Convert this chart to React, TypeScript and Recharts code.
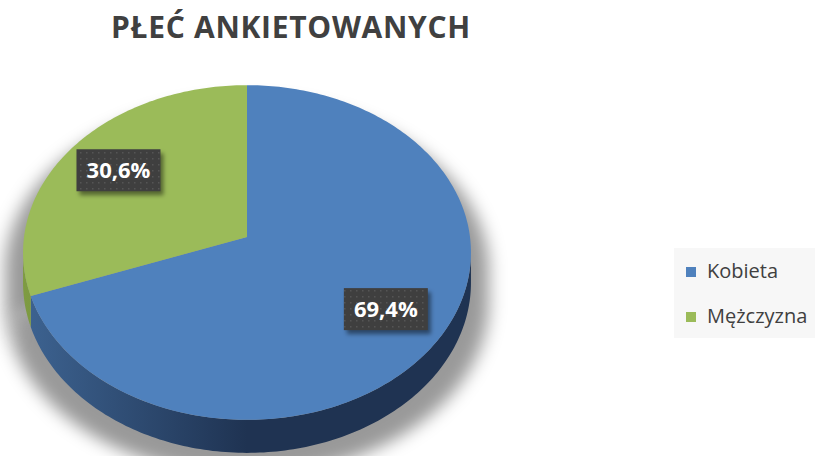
import React from 'react';
import { PieChart, Pie, Legend } from 'recharts';

const TITLE = 'PŁEĆ ANKIETOWANYCH';
const CATEGORIES = ['Kobieta', 'Mężczyzna'];
const VALUES = [69.4, 30.6];
const COLORS = ['#4f81bd', '#9bbb59'];
const WALL_COLORS = [
  ['#3d6391', '#1f3352'],
  ['#7e9b42', '#607b2d'],
];

const data = CATEGORIES.map((name, i) => ({ name, value: VALUES[i] }));

const FONT = '"Open Sans", "DejaVu Sans", sans-serif';
const K = 0.0925; // perspective
const S = 0.744; // vertical squash
const D = 30; // depth
const LIM = (Math.asin(K) * 180) / Math.PI;

function proj(cx: number, cy: number, r: number, deg: number, f = 1): [number, number] {
  const t = (deg * Math.PI) / 180;
  const c = Math.cos(t);
  const s = Math.sin(t);
  const den = 1 + K * f * s;
  return [cx + (r * f * c) / den, cy - (r * S * f * s) / den];
}

function arcPts(cx: number, cy: number, r: number, a: number, b: number, drop = false) {
  const n = Math.max(2, Math.ceil(Math.abs(b - a)) + 1);
  const pts: string[] = [];
  for (let i = 0; i < n; i++) {
    const d = a + ((b - a) * i) / (n - 1);
    const [x, y] = proj(cx, cy, r, d);
    const dy = drop ? D / (1 + K * Math.sin((d * Math.PI) / 180)) : 0;
    pts.push(`${x.toFixed(2)},${(y + dy).toFixed(2)}`);
  }
  return pts;
}

function facePath(cx: number, cy: number, r: number, s: number, e: number) {
  return `M${cx},${cy} L${arcPts(cx, cy, r, s, e).join(' L')} Z`;
}

function wallPath(cx: number, cy: number, r: number, s: number, e: number) {
  const lo = Math.max(Math.min(s, e), -180 + LIM);
  const hi = Math.min(Math.max(s, e), -LIM);
  if (lo >= hi) return null;
  const top = arcPts(cx, cy, r, hi, lo);
  const bot = arcPts(cx, cy, r, lo, hi, true);
  return `M${top.join(' L')} L${bot.join(' L')} Z`;
}

const renderShadow = (p: any) => {
  const { cx, cy, outerRadius, startAngle, endAngle, index } = p;
  const face = facePath(cx, cy, outerRadius, startAngle, endAngle);
  const wall = wallPath(cx, cy, outerRadius, startAngle, endAngle);
  return (
    <g key={`sh-${index}`} transform={`translate(${cx},${cy + 18}) scale(1.08,1.02) translate(${-cx},${-cy})`}>
      <defs>
        <filter id={`blur-${index}`} x="-20%" y="-20%" width="140%" height="140%">
          <feGaussianBlur stdDeviation="8" />
        </filter>
      </defs>
      <g filter={`url(#blur-${index})`} fill="#000" fillOpacity={0.4}>
        <path d={face} />
        {wall && <path d={wall} />}
      </g>
    </g>
  );
};

const renderFace = (p: any) => {
  const { cx, cy, outerRadius, startAngle, endAngle, index } = p;
  const face = facePath(cx, cy, outerRadius, startAngle, endAngle);
  const wall = wallPath(cx, cy, outerRadius, startAngle, endAngle);
  const gid = `wall-${index}`;
  return (
    <g key={`face-${index}`}>
      <defs>
        <linearGradient id={gid} gradientUnits="userSpaceOnUse" x1={cx - outerRadius} y1={0} x2={cx} y2={0}>
          <stop offset="0" stopColor={WALL_COLORS[index][0]} />
          <stop offset="1" stopColor={WALL_COLORS[index][1]} />
        </linearGradient>
      </defs>
      {wall && <path d={wall} fill={`url(#${gid})`} />}
      <path d={face} fill={COLORS[index]} />
    </g>
  );
};

const renderBox = (p: any) => {
  const { cx, cy, outerRadius, midAngle, percent, index } = p;
  const [x, y] = proj(cx, cy, outerRadius, midAngle, 0.73);
  const txt = `${(percent * 100).toFixed(1).replace('.', ',')}%`;
  const w = 84;
  const h = 42;
  return (
    <g key={`box-${index}`}>
      <defs>
        <pattern id={`dots-${index}`} width="6" height="6" patternUnits="userSpaceOnUse">
          <rect width="6" height="6" fill="#3f3f3f" />
          <rect x="2" y="2" width="1.5" height="1.5" fill="#555" />
        </pattern>
        <filter id={`bsh-${index}`} x="-20%" y="-30%" width="140%" height="160%">
          <feGaussianBlur stdDeviation="2" />
        </filter>
      </defs>
      <rect x={x - w / 2 + 3} y={y - h / 2 + 4} width={w} height={h} fill="#000" fillOpacity={0.45} filter={`url(#bsh-${index})`} />
      <rect x={x - w / 2} y={y - h / 2} width={w} height={h} fill={`url(#dots-${index})`} />
      <text x={x} y={y + 8} textAnchor="middle" fill="#fff" fontFamily={FONT} fontWeight={700} fontSize={22}>
        {txt}
      </text>
    </g>
  );
};

const LegendContent = (props: any) => {
  const payload = props.payload || [];
  const seen = new Set<string>();
  const items = payload.filter((it: any) => {
    const v = String(it.value);
    if (seen.has(v)) return false;
    seen.add(v);
    return true;
  });
  return (
    <div style={{ position: 'relative', width: 141, height: 90, background: '#f7f7f7' }}>
      {items.map((item: any, i: number) => (
        <div key={i}>
          <div
            style={{
              position: 'absolute',
              left: 12,
              top: 19 + i * 45,
              width: 10,
              height: 10,
              background: COLORS[Math.max(0, CATEGORIES.indexOf(String(item.value)))],
            }}
          />
          <div
            style={{
              position: 'absolute',
              left: 33,
              top: 13 + i * 45,
              fontFamily: FONT,
              fontSize: 20,
              lineHeight: '20px',
              color: '#404040',
              whiteSpace: 'nowrap',
            }}
          >
            {item.value}
          </div>
        </div>
      ))}
    </div>
  );
};

export default function App() {
  const common = {
    data,
    dataKey: 'value',
    nameKey: 'name',
    cx: 247,
    cy: 237,
    outerRadius: 223,
    startAngle: 90,
    endAngle: -270,
    fill: 'none',
    stroke: 'none',
    labelLine: false,
    isAnimationActive: false,
  } as any;
  return (
    <div style={{ position: 'absolute', left: 0, top: 0, width: 815, height: 456, background: '#fff', overflow: 'hidden' }}>
      <div
        style={{
          position: 'absolute',
          left: 0,
          top: 6,
          width: 582,
          textAlign: 'center',
          fontFamily: FONT,
          fontWeight: 700,
          fontSize: 30,
          letterSpacing: 0.7,
          color: '#404040',
          whiteSpace: 'nowrap',
        }}
      >
        {TITLE}
      </div>
      <PieChart width={815} height={456} margin={{ top: 0, right: 0, bottom: 0, left: 0 }}>
        <Pie {...common} legendType="none" label={renderShadow} />
        <Pie {...common} label={renderFace} />
        <Pie {...common} legendType="none" label={renderBox} />
        <Legend
          content={<LegendContent />}
          wrapperStyle={{ position: 'absolute', left: 674, top: 248, width: 141, height: 90 }}
        />
      </PieChart>
    </div>
  );
}
